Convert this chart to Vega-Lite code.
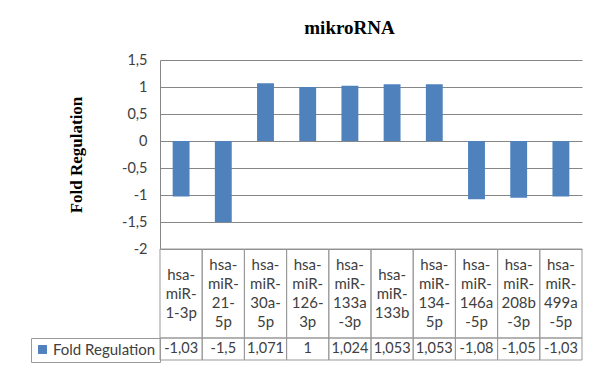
{
  "$schema": "https://vega.github.io/schema/vega-lite/v6.json",
  "padding": {"left": 30, "top": 19, "right": 10, "bottom": 8},
  "background": "#ffffff",
  "bounds": "flush",
  "title": {"text": "mikroRNA", "font": "Liberation Serif", "fontSize": 19, "fontWeight": "bold", "color": "#000000", "anchor": "middle", "dx": 43, "offset": 14},
  "data": {"values": [
    {"mirna": "hsa-miR-1-3p", "wrapped": "hsa-\nmiR-\n1-3p", "value": -1.03},
    {"mirna": "hsa-miR-21-5p", "wrapped": "hsa-\nmiR-\n21-\n5p", "value": -1.5},
    {"mirna": "hsa-miR-30a-5p", "wrapped": "hsa-\nmiR-\n30a-\n5p", "value": 1.071},
    {"mirna": "hsa-miR-126-3p", "wrapped": "hsa-\nmiR-\n126-\n3p", "value": 1},
    {"mirna": "hsa-miR-133a-3p", "wrapped": "hsa-\nmiR-\n133a\n-3p", "value": 1.024},
    {"mirna": "hsa-miR-133b", "wrapped": "hsa-\nmiR-\n133b", "value": 1.053},
    {"mirna": "hsa-miR-134-5p", "wrapped": "hsa-\nmiR-\n134-\n5p", "value": 1.053},
    {"mirna": "hsa-miR-146a-5p", "wrapped": "hsa-\nmiR-\n146a\n-5p", "value": -1.08},
    {"mirna": "hsa-miR-208b-3p", "wrapped": "hsa-\nmiR-\n208b\n-3p", "value": -1.05},
    {"mirna": "hsa-miR-499a-5p", "wrapped": "hsa-\nmiR-\n499a\n-5p", "value": -1.03}
  ]},
  "spacing": 0,
  "resolve": {"scale": {"color": "independent"}, "legend": {"color": "independent"}},
  "vconcat": [
    {
      "width": 422,
      "height": 189,
      "mark": {"type": "bar", "color": "#4F81BD", "width": {"band": 0.4}},
      "encoding": {
        "x": {"field": "mirna", "type": "nominal", "sort": null, "axis": null,
              "scale": {"paddingInner": 0, "paddingOuter": 0}},
        "y": {"field": "value", "type": "quantitative",
              "scale": {"domain": [-2, 1.5], "nice": false, "zero": false},
              "axis": {"values": [-2, -1.5, -1, -0.5, 0, 0.5, 1, 1.5], "format": "~g",
                       "title": "Fold Regulation", "titleFont": "Liberation Serif", "titleFontSize": 17,
                       "titleFontWeight": "bold", "titleColor": "#000000", "titlePadding": 36,
                       "ticks": false, "labelPadding": 13, "labelFont": "Lato", "labelFontSize": 14.5,
                       "labelColor": "#404040", "domainColor": "#868686", "gridColor": "#868686"}}
      }
    },
    {
      "width": 422,
      "height": 89,
      "encoding": {
        "x": {"field": "mirna", "type": "nominal",
              "sort": ["hsa-miR-1-3p", "hsa-miR-21-5p", "hsa-miR-30a-5p", "hsa-miR-126-3p", "hsa-miR-133a-3p", "hsa-miR-133b", "hsa-miR-134-5p", "hsa-miR-146a-5p", "hsa-miR-208b-3p", "hsa-miR-499a-5p"],
              "scale": {"paddingInner": 0, "paddingOuter": 0},
              "axis": null}
      },
      "layer": [
        {
          "mark": {"type": "rect", "fill": "#ffffff", "fillOpacity": 0, "stroke": "#999999", "strokeWidth": 1}
        },
        {
          "transform": [{"filter": {"not": {"field": "mirna", "oneOf": ["hsa-miR-1-3p", "hsa-miR-133b"]}}}],
          "mark": {"type": "text", "lineBreak": "\n", "font": "Lato", "fontSize": 15, "color": "#404040",
                   "baseline": "top", "lineHeight": 19, "dy": -36},
          "encoding": {"text": {"field": "wrapped"}}
        },
        {
          "transform": [{"filter": {"field": "mirna", "oneOf": ["hsa-miR-1-3p", "hsa-miR-133b"]}}],
          "mark": {"type": "text", "lineBreak": "\n", "font": "Lato", "fontSize": 15, "color": "#404040",
                   "baseline": "top", "lineHeight": 19, "dy": -26},
          "encoding": {"text": {"field": "wrapped"}}
        }
      ]
    },
    {
      "width": 422,
      "height": 22,
      "encoding": {
        "x": {"field": "mirna", "type": "nominal", "sort": null,
              "scale": {"paddingInner": 0, "paddingOuter": 0},
              "axis": null}
      },
      "layer": [
        {
          "mark": {"type": "rect", "fill": "#ffffff", "fillOpacity": 0, "stroke": "#999999", "strokeWidth": 1}
        },
        {
          "mark": {"type": "square", "opacity": 0},
          "encoding": {
            "color": {"datum": "Fold Regulation", "type": "nominal",
                      "scale": {"range": ["#4F81BD"]},
                      "legend": {"title": null, "orient": "left", "offset": 0, "padding": 4,
                                 "strokeColor": "#999999", "symbolType": "square", "symbolSize": 80,
                                 "symbolOpacity": 1, "symbolStrokeWidth": 0, "labelFont": "Lato",
                                 "labelFontSize": 15, "labelColor": "#404040", "labelOffset": 3}}
          }
        },
        {
          "mark": {"type": "text", "font": "Lato", "fontSize": 14.5, "color": "#404040", "baseline": "middle"},
          "encoding": {
            "text": {"field": "value", "type": "quantitative", "format": "~g"}
          }
        }
      ]
    }
  ],
  "config": {
    "view": {"stroke": null},
    "locale": {"number": {"decimal": ",", "thousands": ".", "grouping": [3], "currency": ["", ""], "minus": "-"}}
  }
}
